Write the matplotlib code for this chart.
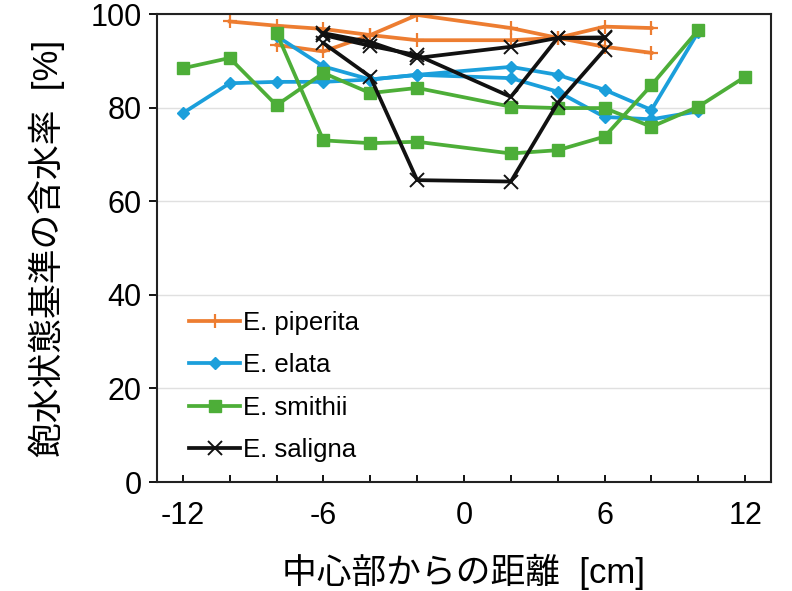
import matplotlib
matplotlib.use("Agg")
import matplotlib.pyplot as plt
from matplotlib.ticker import MultipleLocator

plt.rcParams['font.family'] = ['Liberation Sans', 'Noto Sans CJK JP']
plt.rcParams['axes.unicode_minus'] = False

# E. piperita
pip_x1 = [-10, -8, -6, -4, -2, 2, 4, 6, 8]
pip_y1 = [98.4, 97.5, 96.8, 95.5, 94.4, 94.4, 94.9, 97.3, 97.0]
pip_x2 = [-8, -6, -4, -2, 2, 4, 6, 8]
pip_y2 = [93.4, 92.0, 95.5, 99.8, 97.0, 94.9, 93.0, 91.7]

# E. elata
ela_x1 = [-12, -10, -8, -6, -4, -2, 2, 4, 6, 8, 10]
ela_y1 = [78.8, 85.2, 85.5, 85.5, 86.0, 87.0, 88.7, 87.0, 83.8, 79.5, 96.2]
ela_x2 = [-8, -6, -4, -2, 2, 4, 6, 8, 10]
ela_y2 = [95.3, 88.8, 86.0, 87.0, 86.3, 83.4, 78.0, 77.5, 79.2]

# E. smithii
smi_x1 = [-12, -10, -8, -6, -4, -2, 2, 4, 6, 8, 10, 12]
smi_y1 = [88.4, 90.6, 80.5, 87.4, 83.1, 84.2, 80.2, 79.9, 79.9, 75.9, 80.2, 86.6]
smi_x2 = [-8, -6, -4, -2, 2, 4, 6, 8, 10]
smi_y2 = [96.0, 73.0, 72.4, 72.7, 70.2, 70.9, 73.8, 84.8, 96.6]

# E. saligna
sal_x = [-6, -4, -2, 2, 4, 6]
sal_y1 = [95.9, 94.0, 90.6, 93.0, 94.9, 95.0]
sal_y2 = [93.8, 86.6, 64.5, 64.2, 81.0, 92.4]
sal_y3 = [95.5, 93.2, 91.2, 82.3, 94.9, 94.8]

c_pip = '#ED7D31'
c_ela = '#1B9FDB'
c_smi = '#4DAE38'
c_sal = '#111111'

fig = plt.figure(figsize=(7.92, 5.91), dpi=100)
ax = fig.add_axes([157/792, 1 - 482/591, 614/792, 468/591])

lw = 2.7
ax.plot(pip_x1, pip_y1, color=c_pip, lw=lw, marker='+', ms=10, mew=1.6, label='E. piperita')
ax.plot(pip_x2, pip_y2, color=c_pip, lw=lw, marker='+', ms=10, mew=1.6)
ax.plot(ela_x1, ela_y1, color=c_ela, lw=lw, marker='D', ms=6, label='E. elata')
ax.plot(ela_x2, ela_y2, color=c_ela, lw=lw, marker='D', ms=6)
ax.plot(smi_x1, smi_y1, color=c_smi, lw=lw, marker='s', ms=8, label='E. smithii')
ax.plot(smi_x2, smi_y2, color=c_smi, lw=lw, marker='s', ms=8)
ax.plot(sal_x, sal_y1, color=c_sal, lw=lw, marker='x', ms=10, mew=1.4, label='E. saligna')
ax.plot(sal_x, sal_y2, color=c_sal, lw=lw, marker='x', ms=10, mew=1.4)
ax.plot(sal_x, sal_y3, color=c_sal, lw=lw, marker='x', ms=10, mew=1.4)

ax.set_xlim(-13.1, 13.1)
ax.set_ylim(0, 100)
ax.xaxis.set_major_locator(MultipleLocator(6))
ax.xaxis.set_minor_locator(MultipleLocator(2))
ax.yaxis.set_major_locator(MultipleLocator(20))
ax.grid(axis='y', color='#e0e0e0', lw=1)
ax.set_axisbelow(True)

for s in ax.spines.values():
    s.set_linewidth(1.5)
    s.set_color('#222222')

ax.tick_params(axis='y', direction='out', length=6, width=1.3, labelsize=22, pad=5)
ax.tick_params(axis='x', which='both', direction='in', length=5, width=1.3, labelsize=22, pad=14)

ax.set_xlabel('中心部からの距離  [cm]', fontsize=25, labelpad=16)
ax.set_ylabel('飽水状態基準の含水率  [%]', fontsize=25, labelpad=18)

ax.legend(loc='upper left', bbox_to_anchor=(0.052, 0.366), frameon=False,
          fontsize=18.5, handlelength=2.0, handletextpad=0.1, labelspacing=0.72,
          borderaxespad=0, borderpad=0)

fig.savefig('out.png', dpi=100)
